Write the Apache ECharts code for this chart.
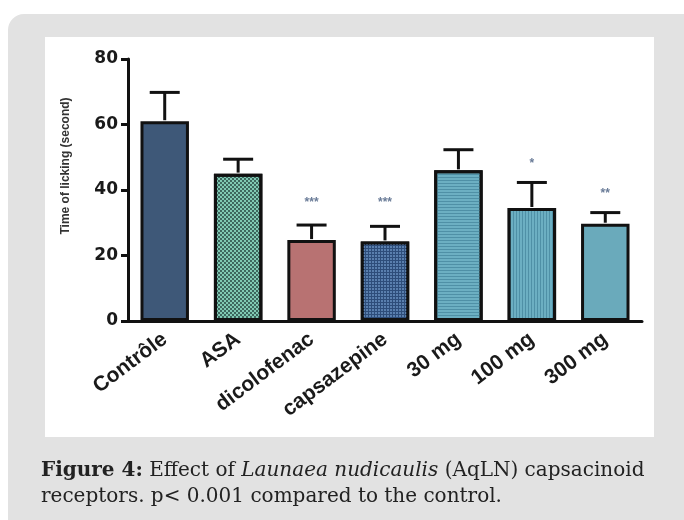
<!DOCTYPE html>
<html>
<head>
<meta charset="utf-8">
<script src="https://cdn.jsdelivr.net/npm/echarts@6/dist/echarts.min.js"></script>
<style>html,body{margin:0;padding:0;background:#fff}#c{width:684px;height:520px}</style>
</head>
<body>
<div id="c"></div>
<script>
var categories = ['Contrôle', 'ASA', 'dicolofenac', 'capsazepine', '30 mg', '100 mg', '300 mg'];
var means = [61, 45, 24.7, 24.3, 46, 34.5, 29.7];
var errorTops = [69.8, 49.4, 29.3, 28.9, 52.3, 42.3, 33.1];
var stars = ['', '', '***', '***', '', '*', '**'];
var starLevels = [null, null, 36, 36, null, 48, 39];
var yTicks = [0, 20, 40, 60, 80];

var barStyles = [
  {color: '#3e5878'},
  {color: '#80c9b3', decal: {symbol: 'circle', symbolSize: 0.9, color: '#1e3a36', dashArrayX: [[1.5, 1.5], [0, 1.5, 1.5, 0]], dashArrayY: [1.5, 0]}},
  {color: '#b87272'},
  {color: '#2e4d7a', decal: {symbol: 'rect', symbolSize: 1, color: '#5a7fae', dashArrayX: [2, 1], dashArrayY: [2, 1]}},
  {color: '#6cafc2', decal: {symbol: 'rect', symbolSize: 1, color: '#4f90a6', dashArrayX: [1, 0], dashArrayY: [1, 2]}},
  {color: '#6cafc2', decal: {symbol: 'rect', symbolSize: 1, color: '#4f90a6', dashArrayX: [1, 2], dashArrayY: [1, 0]}},
  {color: '#6aaabb'}
];

var barData = means.map(function (v, i) {
  var s = barStyles[i];
  var it = {color: s.color, borderColor: '#111', borderWidth: 3};
  if (s.decal) it.decal = s.decal;
  return {value: v, itemStyle: it};
});

var chart = echarts.init(document.getElementById('c'), null, {renderer: 'canvas'});
chart.setOption({
  animation: false,
  backgroundColor: '#fff',
  graphic: [
    {type: 'rect', z: -10, shape: {x: 8, y: 14, width: 720, height: 560, r: 16}, style: {fill: '#e2e2e2'}},
    {type: 'rect', z: -9, shape: {x: 45, y: 37, width: 609, height: 400}, style: {fill: '#ffffff'}},
    {type: 'text', x: 66, y: 166, rotation: Math.PI / 2, style: {text: 'Time of licking (second)', font: 'bold 12px "Liberation Sans", Arial', fill: '#333', align: 'center', verticalAlign: 'middle'}}
  ],
  title: {
    left: 36, top: 453,
    text: '{b|Figure 4:} Effect of {i|Launaea nudicaulis} (AqLN) capsacinoid\nreceptors. p< 0.001 compared to the control.',
    textStyle: {
      fontFamily: '"DejaVu Serif", serif', fontSize: 20, fontWeight: 'normal', color: '#222', lineHeight: 26,
      rich: {
        b: {fontFamily: '"DejaVu Serif", serif', fontSize: 20, fontWeight: 'bold', color: '#222', lineHeight: 26},
        i: {fontFamily: '"DejaVu Serif", serif', fontSize: 20, fontStyle: 'italic', color: '#222', lineHeight: 26}
      }
    }
  },
  grid: {left: 128, right: 42, top: 59, bottom: 199},
  xAxis: {
    type: 'category', data: categories,
    axisLine: {lineStyle: {color: '#111', width: 3}},
    axisTick: {alignWithLabel: true, length: 6, lineStyle: {color: '#111', width: 3}},
    axisLabel: {rotate: 37, fontFamily: '"Liberation Sans", Arial', fontWeight: 'bold', fontSize: 21, color: '#1a1a1a', margin: 16, interval: 0}
  },
  yAxis: {
    type: 'value', min: 0, max: 80, interval: 20,
    axisLine: {show: true, lineStyle: {color: '#111', width: 3}},
    axisTick: {show: true, length: 7, lineStyle: {color: '#111', width: 3}},
    axisLabel: {fontFamily: '"DejaVu Sans", sans-serif', fontWeight: 'bold', fontSize: 17, color: '#1a1a1a', margin: 10,
      formatter: function (v) { return yTicks.indexOf(v) >= 0 ? String(v) : ''; }},
    splitLine: {show: false}
  },
  series: [
    {type: 'bar', data: barData, barWidth: '66%', z: 2},
    {
      type: 'custom', z: 3,
      data: means.map(function (v, i) { return [i, v, errorTops[i]]; }),
      renderItem: function (params, api) {
        var base = api.coord([api.value(0), api.value(1)]);
        var top = api.coord([api.value(0), api.value(2)]);
        var hw = 15;
        var st = {stroke: '#111', lineWidth: 3, fill: null};
        return {type: 'group', children: [
          {type: 'line', shape: {x1: base[0], y1: base[1] - 1, x2: top[0], y2: top[1]}, style: st},
          {type: 'line', shape: {x1: top[0] - hw, y1: top[1], x2: top[0] + hw, y2: top[1]}, style: st}
        ]};
      }
    },
    {
      type: 'custom', z: 3,
      data: stars.map(function (s, i) { return [i, starLevels[i] === null ? 0 : starLevels[i], s]; }),
      renderItem: function (params, api) {
        var s = stars[params.dataIndex];
        if (!s) return null;
        var p = api.coord([api.value(0), api.value(1)]);
        return {type: 'text', x: p[0], y: p[1], style: {text: s, font: 'bold 12px "Liberation Sans", Arial', fill: '#6a7c98', align: 'center', verticalAlign: 'middle'}};
      }
    }
  ]
});
</script>
</body>
</html>
